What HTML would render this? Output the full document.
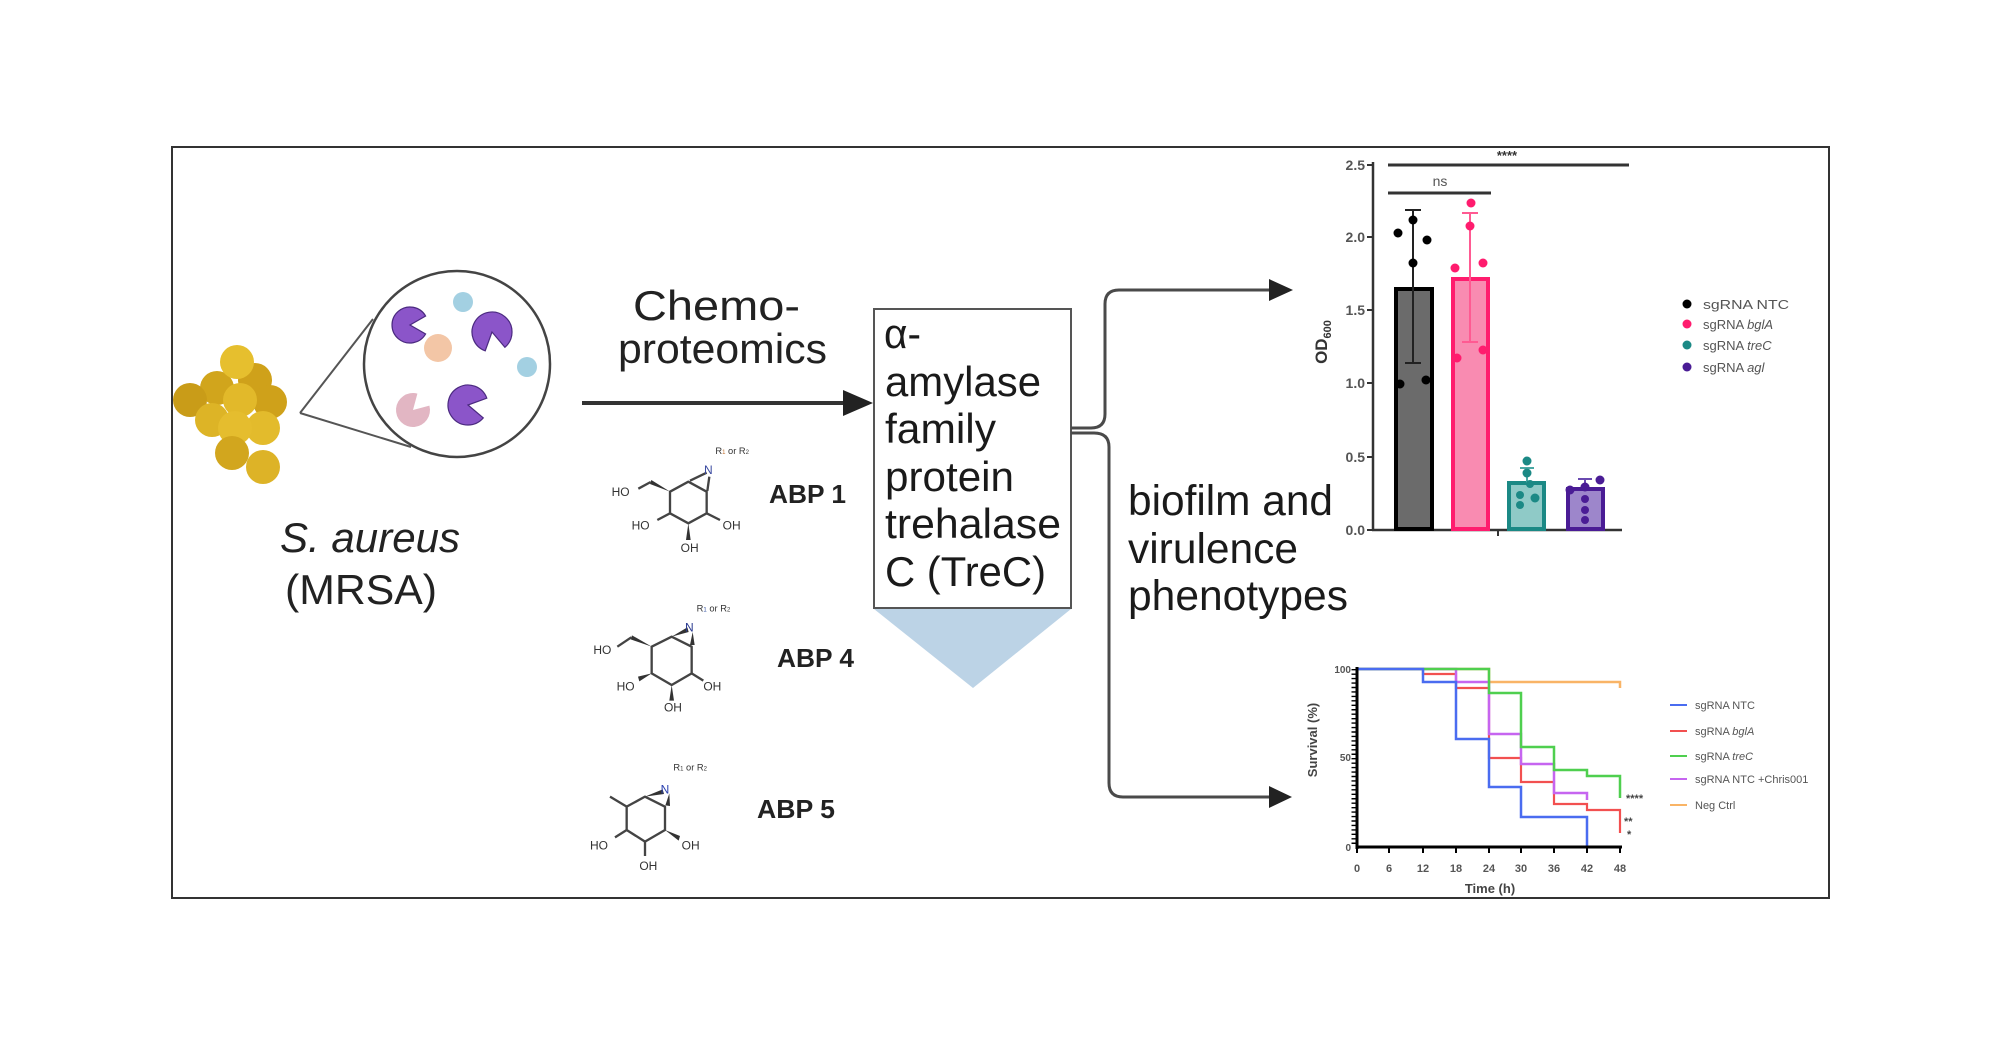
<!DOCTYPE html>
<html><head><meta charset="utf-8"><style>
html,body{margin:0;padding:0;background:#fff;}
svg{display:block;}
text{font-family:"Liberation Sans",Arial,sans-serif;}
</style></head><body>
<svg width="2000" height="1046" viewBox="0 0 2000 1046" xmlns="http://www.w3.org/2000/svg">
<rect x="0" y="0" width="2000" height="1046" fill="#fff"/>
<rect x="172" y="147" width="1657" height="751" fill="none" stroke="#333" stroke-width="2"/>

<!-- cluster -->
<g>
<circle cx="255" cy="380" r="17" fill="#cfa11a"/>
<circle cx="217" cy="388" r="17" fill="#d1a51c"/>
<circle cx="190" cy="400" r="17" fill="#c99c18"/>
<circle cx="270" cy="402" r="17" fill="#cfa11a"/>
<circle cx="237" cy="362" r="17" fill="#e6bf2e"/>
<circle cx="240" cy="400" r="17" fill="#e2b92a"/>
<circle cx="212" cy="420" r="17" fill="#ddb426"/>
<circle cx="263" cy="428" r="17" fill="#e3bb2c"/>
<circle cx="235" cy="428" r="17" fill="#e5bd2e"/>
<circle cx="232" cy="453" r="17" fill="#d2a61e"/>
<circle cx="263" cy="467" r="17" fill="#ddb327"/>
</g>
<!-- magnifier -->
<path d="M300,413 L373,319 M300,413 L411,447" stroke="#555" stroke-width="2" fill="none"/>
<circle cx="457" cy="364" r="93" fill="#fff" stroke="#444" stroke-width="2.5"/>
<path d="M410,325 L425.6,334 A18,18 0 1 1 425.6,316 Z" fill="#8b55c9" stroke="#4b2a80" stroke-width="1.2"/>
<circle cx="463" cy="302" r="10" fill="#a3d0e2"/>
<path d="M492,332 L485.2,350.8 A20,20 0 1 1 504.9,347.3 Z" fill="#8b55c9" stroke="#4b2a80" stroke-width="1.2"/>
<circle cx="438" cy="348" r="14" fill="#f3c6a6"/>
<circle cx="527" cy="367" r="10" fill="#a3d0e2"/>
<path d="M413,410 L429.4,405.6 A17,17 0 1 1 417.4,393.6 Z" fill="#e2b6c3"/>
<path d="M468,405 L483.3,417.9 A20,20 0 1 1 486.8,398.2 Z" fill="#8b55c9" stroke="#4b2a80" stroke-width="1.2"/>

<text x="280" y="552" font-size="42" font-style="italic" fill="#222" textLength="180" lengthAdjust="spacingAndGlyphs">S. aureus</text>
<text x="285" y="604" font-size="42" fill="#222" textLength="152" lengthAdjust="spacingAndGlyphs">(MRSA)</text>

<!-- chemoproteomics arrow -->
<text x="633" y="320" font-size="42" fill="#222" textLength="167" lengthAdjust="spacingAndGlyphs">Chemo-</text>
<text x="618" y="363" font-size="42" fill="#222" textLength="209" lengthAdjust="spacingAndGlyphs">proteomics</text>
<line x1="582" y1="403" x2="846" y2="403" stroke="#333" stroke-width="4"/>
<polygon points="843,390 873,403 843,416" fill="#222"/>

<!-- box -->
<polygon points="874,609 1071,609 973,688" fill="#bcd3e6"/>
<rect x="874" y="309" width="197" height="299" fill="#fff" stroke="#555" stroke-width="2"/>
<g font-size="42" fill="#1a1a1a">
<text x="884" y="348" textLength="37" lengthAdjust="spacingAndGlyphs">α-</text>
<text x="885" y="396" textLength="156" lengthAdjust="spacingAndGlyphs">amylase</text>
<text x="885" y="443" textLength="111" lengthAdjust="spacingAndGlyphs">family</text>
<text x="885" y="491" textLength="129" lengthAdjust="spacingAndGlyphs">protein</text>
<text x="885" y="538" textLength="176" lengthAdjust="spacingAndGlyphs">trehalase</text>
<text x="885" y="586" textLength="161" lengthAdjust="spacingAndGlyphs">C (TreC)</text>
</g>

<!-- ABP labels -->
<g font-size="26" font-weight="bold" fill="#222">
<text x="769" y="503" textLength="77" lengthAdjust="spacingAndGlyphs">ABP 1</text>
<text x="777" y="667" textLength="77" lengthAdjust="spacingAndGlyphs">ABP 4</text>
<text x="757" y="818" textLength="78" lengthAdjust="spacingAndGlyphs">ABP 5</text>
</g>

<!-- structures -->
<g transform="translate(570,430) scale(0.33333)" stroke="#444" stroke-width="7" fill="none" stroke-linejoin="round">
 <path d="M300,185 L355,155 L410,185 L410,250 L355,280 L300,250 Z"/>
 <path d="M360,152 L410,128 M418,140 L412,183"/>
 <polygon points="300,185 244,150 240,162" fill="#333" stroke="none"/>
 <path d="M242,156 L205,176"/>
 <path d="M300,250 L262,270"/>
 <path d="M410,250 L450,270"/>
 <polygon points="355,280 348,330 362,330" fill="#333" stroke="none"/>
 <path d="M245,650 L305,620 L365,650 L365,730 L305,765 L245,730 Z"/>
 <polygon points="305,620 352,592 356,606" fill="#333" stroke="none"/>
 <polygon points="368,606 360,645 374,645" fill="#333" stroke="none"/>
 <polygon points="245,650 186,616 182,628" fill="#333" stroke="none"/>
 <path d="M184,622 L142,650"/>
 <polygon points="245,730 204,740 208,754" fill="#333" stroke="none"/>
 <path d="M365,730 L400,752"/>
 <polygon points="305,765 298,812 312,812" fill="#333" stroke="none"/>
 <path d="M170,1130 L225,1100 L285,1130 L285,1200 L225,1235 L170,1200 Z"/>
 <polygon points="225,1100 278,1078 282,1092" fill="#333" stroke="none"/>
 <polygon points="298,1090 286,1126 300,1128" fill="#333" stroke="none"/>
 <path d="M170,1130 L120,1100"/>
 <path d="M170,1200 L135,1222"/>
 <polygon points="285,1200 330,1218 326,1232" fill="#333" stroke="none"/>
 <path d="M225,1235 L225,1278"/>
</g>
<g transform="translate(570,430) scale(0.33333)" font-size="36" fill="#333">
 <text x="125" y="198">HO</text>
 <text x="185" y="298">HO</text>
 <text x="458" y="298">OH</text>
 <text x="332" y="366">OH</text>
 <text x="402" y="132" fill="#3a4aa0">N</text>
 <text x="436" y="72" font-size="28">R<tspan font-size="18" fill="#c07030">1</tspan> or R<tspan font-size="18">2</tspan></text>
 <text x="70" y="672">HO</text>
 <text x="140" y="782">HO</text>
 <text x="400" y="782">OH</text>
 <text x="282" y="845">OH</text>
 <text x="345" y="605" fill="#2a3a90">N</text>
 <text x="380" y="545" font-size="28">R<tspan font-size="18" fill="#3050a0">1</tspan> or R<tspan font-size="18">2</tspan></text>
 <text x="60" y="1258">HO</text>
 <text x="335" y="1258">OH</text>
 <text x="208" y="1320">OH</text>
 <text x="272" y="1090" fill="#2a40b0">N</text>
 <text x="310" y="1022" font-size="28">R<tspan font-size="18">1</tspan> or R<tspan font-size="18">2</tspan></text>
</g>

<!-- connectors -->
<path d="M1071,428 H1091 Q1105,428 1105,414 V304 Q1105,290 1119,290 H1272" stroke="#4a4a4a" stroke-width="3" fill="none"/>
<polygon points="1269,279 1293,290 1269,301" fill="#222"/>
<path d="M1071,433 H1094 Q1109,433 1109,447 V783 Q1109,797 1123,797 H1272" stroke="#4a4a4a" stroke-width="3" fill="none"/>
<polygon points="1269,786 1292,797 1269,808" fill="#222"/>

<g font-size="43" fill="#1a1a1a">
<text x="1128" y="515" textLength="205" lengthAdjust="spacingAndGlyphs">biofilm and</text>
<text x="1128" y="563" textLength="170" lengthAdjust="spacingAndGlyphs">virulence</text>
<text x="1128" y="610" textLength="220" lengthAdjust="spacingAndGlyphs">phenotypes</text>
</g>

<!-- bar chart -->
<g>
<line x1="1373" y1="162" x2="1373" y2="531" stroke="#333" stroke-width="2.5"/>
<line x1="1372" y1="530" x2="1622" y2="530" stroke="#333" stroke-width="2.5"/>
<line x1="1498" y1="530" x2="1498" y2="536" stroke="#333" stroke-width="2"/>
<g stroke="#333" stroke-width="2">
<line x1="1367" y1="165" x2="1373" y2="165"/><line x1="1367" y1="237" x2="1373" y2="237"/>
<line x1="1367" y1="310" x2="1373" y2="310"/><line x1="1367" y1="383" x2="1373" y2="383"/>
<line x1="1367" y1="457" x2="1373" y2="457"/><line x1="1367" y1="530" x2="1373" y2="530"/>
</g>
<g font-size="14" font-weight="bold" fill="#555" text-anchor="end">
<text x="1365" y="170">2.5</text><text x="1365" y="242">2.0</text><text x="1365" y="315">1.5</text>
<text x="1365" y="388">1.0</text><text x="1365" y="462">0.5</text><text x="1365" y="535">0.0</text>
</g>
<text transform="translate(1327,342) rotate(-90)" font-size="17" font-weight="bold" fill="#333" text-anchor="middle">OD<tspan font-size="11" dy="4">600</tspan></text>
<line x1="1388" y1="165" x2="1629" y2="165" stroke="#333" stroke-width="3"/>
<text x="1507" y="160" font-size="13" font-weight="bold" fill="#333" text-anchor="middle">****</text>
<line x1="1388" y1="193" x2="1491" y2="193" stroke="#333" stroke-width="3"/>
<text x="1440" y="186" font-size="14" fill="#555" text-anchor="middle">ns</text>
<rect x="1396" y="289" width="36" height="240" fill="#6b6b6b" stroke="#000" stroke-width="4"/>
<rect x="1453" y="279" width="35" height="250" fill="#f98bb1" stroke="#ff1c6e" stroke-width="4"/>
<rect x="1509" y="483" width="35" height="46" fill="#8fcac7" stroke="#1b8985" stroke-width="4"/>
<rect x="1568" y="489" width="35" height="40" fill="#9d86cb" stroke="#4a1c95" stroke-width="4"/>
<path d="M1413,210 V363 M1405,210 H1421 M1405,363 H1421" stroke="#222" stroke-width="2"/>
<path d="M1470,213 V342 M1462,213 H1478 M1462,342 H1478" stroke="#ff5a92" stroke-width="2"/>
<path d="M1527,468 V483 M1520,468 H1534" stroke="#4aa8a4" stroke-width="2"/>
<path d="M1585,479 V489 M1578,479 H1592" stroke="#6a4ab0" stroke-width="2"/>
<g fill="#000">
<circle cx="1398" cy="233" r="4.5"/><circle cx="1413" cy="220" r="4.5"/><circle cx="1427" cy="240" r="4.5"/>
<circle cx="1413" cy="263" r="4.5"/><circle cx="1400" cy="384" r="4.5"/><circle cx="1426" cy="380" r="4.5"/>
</g>
<g fill="#ff1c6e">
<circle cx="1471" cy="203" r="4.5"/><circle cx="1470" cy="226" r="4.5"/><circle cx="1455" cy="268" r="4.5"/>
<circle cx="1483" cy="263" r="4.5"/><circle cx="1457" cy="358" r="4.5"/><circle cx="1483" cy="350" r="4.5"/>
</g>
<g fill="#1b8985">
<circle cx="1527" cy="461" r="4.5"/><circle cx="1527" cy="473" r="4.5"/><circle cx="1530" cy="484" r="4"/>
<circle cx="1520" cy="495" r="4"/><circle cx="1535" cy="498" r="4.5"/><circle cx="1520" cy="505" r="4"/>
</g>
<g fill="#4a1c95">
<circle cx="1570" cy="490" r="4.5"/><circle cx="1585" cy="487" r="4.5"/><circle cx="1600" cy="480" r="4.5"/>
<circle cx="1585" cy="499" r="4"/><circle cx="1585" cy="510" r="4"/><circle cx="1585" cy="520" r="4"/>
</g>
<circle cx="1687" cy="304" r="4.5" fill="#000"/>
<circle cx="1687" cy="324" r="4.5" fill="#ff1c6e"/>
<circle cx="1687" cy="345" r="4.5" fill="#1b8985"/>
<circle cx="1687" cy="367" r="4.5" fill="#4a1c95"/>
<g font-size="13" fill="#555">
<text x="1703" y="309" textLength="86" lengthAdjust="spacingAndGlyphs">sgRNA NTC</text>
<text x="1703" y="329">sgRNA <tspan font-style="italic">bglA</tspan></text>
<text x="1703" y="350">sgRNA <tspan font-style="italic">treC</tspan></text>
<text x="1703" y="372">sgRNA <tspan font-style="italic">agl</tspan></text>
</g>
</g>

<!-- survival -->
<g>
<path d="M1357,669 H1489 V682 H1620 V688" stroke="#f9b466" stroke-width="2.5" fill="none"/>
<path d="M1357,669 H1423 V674 H1456 V688 H1489 V758 H1521 V782 H1554 V804 H1587 V810 H1620 V833" stroke="#f25050" stroke-width="2.2" fill="none"/>
<path d="M1357,669 H1456 V682 H1489 V734 H1521 V764 H1554 V793 H1587 V800" stroke="#c665f0" stroke-width="2.5" fill="none"/>
<path d="M1357,669 H1489 V693 H1521 V747 H1554 V770 H1587 V776 H1620 V798" stroke="#4fcf4f" stroke-width="2.5" fill="none"/>
<path d="M1357,669 H1423 V682 H1456 V739 H1489 V787 H1521 V817 H1587 V847" stroke="#4a6cf0" stroke-width="2.5" fill="none"/>
<line x1="1357" y1="667" x2="1357" y2="849" stroke="#000" stroke-width="3"/>
<line x1="1353.5" y1="669" x2="1353.5" y2="847" stroke="#000" stroke-width="4" stroke-dasharray="1.4 3.05"/>
<line x1="1356" y1="847" x2="1622" y2="847" stroke="#000" stroke-width="3"/>
<g stroke="#000" stroke-width="2">
<line x1="1389" y1="847" x2="1389" y2="853"/><line x1="1423" y1="847" x2="1423" y2="853"/>
<line x1="1456" y1="847" x2="1456" y2="853"/><line x1="1489" y1="847" x2="1489" y2="853"/>
<line x1="1521" y1="847" x2="1521" y2="853"/><line x1="1554" y1="847" x2="1554" y2="853"/>
<line x1="1587" y1="847" x2="1587" y2="853"/><line x1="1620" y1="847" x2="1620" y2="853"/>
<line x1="1357" y1="847" x2="1357" y2="853"/>
</g>
<g font-size="11" font-weight="bold" fill="#555" text-anchor="middle">
<text x="1357" y="872">0</text><text x="1389" y="872">6</text><text x="1423" y="872">12</text>
<text x="1456" y="872">18</text><text x="1489" y="872">24</text><text x="1521" y="872">30</text>
<text x="1554" y="872">36</text><text x="1587" y="872">42</text><text x="1620" y="872">48</text>
</g>
<g font-size="10" font-weight="bold" fill="#555" text-anchor="end">
<text x="1351" y="673">100</text><text x="1351" y="761">50</text><text x="1351" y="851">0</text>
</g>
<text x="1490" y="893" font-size="13" font-weight="bold" fill="#444" text-anchor="middle">Time (h)</text>
<text transform="translate(1317,740) rotate(-90)" font-size="13" font-weight="bold" fill="#444" text-anchor="middle">Survival (%)</text>
<g font-size="11" font-weight="bold" fill="#444">
<text x="1626" y="802">****</text>
<text x="1624" y="825">**</text>
<text x="1627" y="838">*</text>
</g>
<g stroke-width="2" fill="none">
<line x1="1670" y1="705" x2="1687" y2="705" stroke="#4a6cf0"/>
<line x1="1670" y1="731" x2="1687" y2="731" stroke="#f25050"/>
<line x1="1670" y1="756" x2="1687" y2="756" stroke="#4fcf4f"/>
<line x1="1670" y1="779" x2="1687" y2="779" stroke="#c665f0"/>
<line x1="1670" y1="805" x2="1687" y2="805" stroke="#f9b466"/>
</g>
<g font-size="11" fill="#555">
<text x="1695" y="709">sgRNA NTC</text>
<text x="1695" y="735">sgRNA <tspan font-style="italic">bglA</tspan></text>
<text x="1695" y="760">sgRNA <tspan font-style="italic">treC</tspan></text>
<text x="1695" y="783">sgRNA NTC +Chris001</text>
<text x="1695" y="809">Neg Ctrl</text>
</g>
</g>
</svg>
</body></html>
